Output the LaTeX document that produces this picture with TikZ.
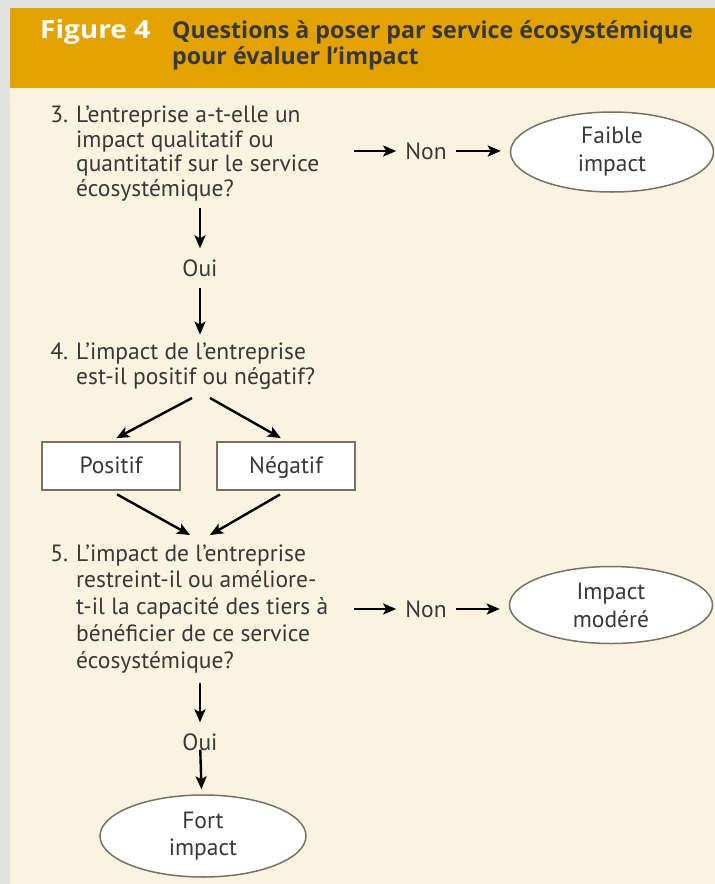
\documentclass[tikz,border=0pt]{standalone}
\usepackage{fontspec}
\setmainfont{PT Sans}
\newfontfamily\titrefont{Open Sans}
\usepackage{xcolor}
\usetikzlibrary{arrows.meta, positioning, shapes.geometric}

\definecolor{cadre}{HTML}{E2E2DE}
\definecolor{creme}{HTML}{FCF2E0}
\definecolor{bandeau}{HTML}{E2A300}
\definecolor{trait}{HTML}{7A7064}
\definecolor{texte}{HTML}{383838}

\begin{document}
\begin{tikzpicture}[x=1pt, y=-1pt,
    font=\fontsize{23.5}{24.5}\selectfont, text=texte,
    question/.style={align=left, anchor=base west, inner sep=0pt},
    reponse/.style={inner xsep=9pt, inner ysep=11pt},
    issue/.style={ellipse, draw=trait, line width=1.5pt, fill=white,
        minimum width=203pt, minimum height=80pt, align=center, inner sep=0pt,
        font=\fontsize{23.5}{28}\selectfont},
    choix/.style={rectangle, draw=trait, line width=2pt, fill=white,
        minimum width=138pt, minimum height=48pt, text height=17pt, text depth=3pt},
    fleche/.style={-{Stealth[length=13pt,width=11pt,inset=3pt]}, line width=2.4pt, black}]

    % fond et bandeau
    \fill[cadre] (0,0) rectangle (715,884);
    \fill[creme] (10,88) rectangle (715,884);
    \fill[bandeau] (10,8) rectangle (715,88);
    \useasboundingbox (0,0) rectangle (715,884);

    \node[anchor=base west, inner sep=0pt, text=white,
        font=\titrefont\fontsize{25}{26}\selectfont\bfseries\addfontfeature{FakeStretch=1.12}] (fig) at (40,38) {Figure 4};
    \node[anchor=base west, inner sep=0pt, align=left,
        font=\titrefont\fontsize{23.2}{26}\selectfont\bfseries] (titre) at (172,64)
        {Questions à poser par service écosystémique\\pour évaluer l’impact};

    % question 3
    \node[question] (q3) at (76,196)
        {\llap{3.\hspace{8pt}}L’entreprise a-t-elle un\\impact qualitatif ou\\quantitatif sur le service\\écosystémique?};
    \coordinate (q3e) at (354,151);
    \coordinate (q3s) at (200,208);
    \node[reponse] (non3) at (426,151) {Non};
    \node[issue] (faible) at (612,152) {Faible\\impact};
    \node[reponse] (oui3) at (200,268) {Oui};

    \draw[fleche] (q3e) -- (non3);
    \draw[fleche, shorten >=9pt] (non3) -- (non3 -| faible.west);
    \draw[fleche] (q3s) -- (oui3);

    % question 4
    \node[question] (q4) at (76,384)
        {\llap{4.\hspace{8pt}}L’impact de l’entreprise\\est-il positif ou négatif?};
    \draw[fleche, shorten >=8pt] (oui3) -- (oui3 |- q4.north);

    \coordinate (q4g) at (192,398);
    \coordinate (q4d) at (210,398);
    \node[choix] (pos) at (111,466) {Positif};
    \node[choix] (neg) at (286,466) {Négatif};
    \draw[fleche, shorten >=6pt] (q4g) -- (pos.north);
    \draw[fleche, shorten >=6pt] (q4d) -- (neg.north);

    % question 5
    \coordinate (q5g) at (190,535);
    \coordinate (q5d) at (210,535);
    \draw[fleche, shorten <=7pt] (pos.south) -- (q5g);
    \draw[fleche, shorten <=7pt] (neg.south) -- (q5d);

    \node[question, font=\fontsize{23.5}{26.7}\selectfont] (q5) at (76,668)
        {\llap{5.\hspace{8pt}}L’impact de l’entreprise\\restreint-il ou améliore-\\t-il la capacité des tiers à\\bénéficier de ce service\\écosystémique?};
    \coordinate (q5e) at (354,609);
    \coordinate (q5s) at (200,683);
    \node[reponse] (non5) at (426,609) {Non};
    \node[issue, minimum height=77pt] (modere) at (611,605) {Impact\\modéré};
    \node[reponse] (oui5) at (200,742) {Oui};
    \node[issue, minimum width=206pt, minimum height=82pt,
        font=\fontsize{23.5}{27}\selectfont] (fort) at (203,836) {Fort\\impact};

    \draw[fleche] (q5e) -- (non5);
    \draw[fleche, shorten >=9pt] (non5) -- (non5 -| modere.west);
    \draw[fleche] (q5s) -- (oui5);
    \draw[fleche, shorten <=-12pt, shorten >=5pt] (oui5) -- (fort);
\end{tikzpicture}
\end{document}
